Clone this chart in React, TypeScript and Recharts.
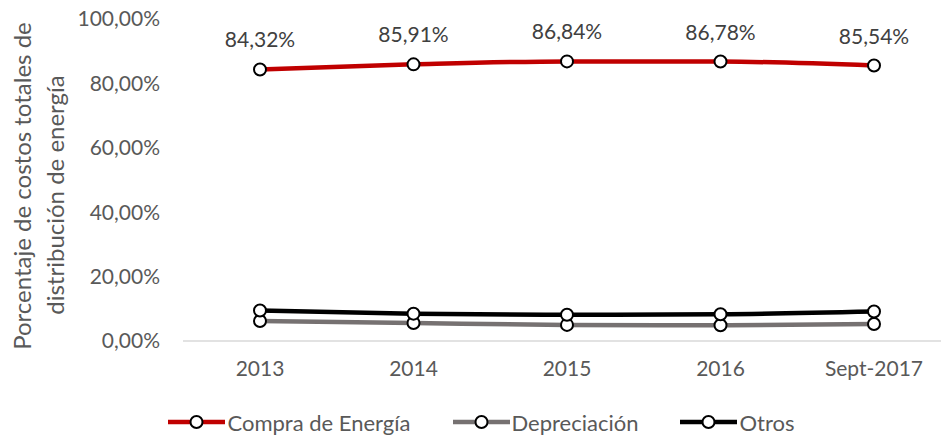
import React from "react";
import { LineChart, Line, XAxis, YAxis, LabelList } from "recharts";

const years = ["2013", "2014", "2015", "2016", "Sept-2017"];
const compra = [84.32, 85.91, 86.84, 86.78, 85.54];
const depreciacion = [6.2, 5.6, 5.0, 4.9, 5.3];
const otros = [9.48, 8.49, 8.16, 8.32, 9.16];
const yTicks = [0, 20, 40, 60, 80, 100];

const series = [
  { key: "compra", name: "Compra de Energía", color: "#c00000" },
  { key: "depreciacion", name: "Depreciación", color: "#767171" },
  { key: "otros", name: "Otros", color: "#000000" },
];

const data = years.map((y, i) => ({
  year: y,
  compra: compra[i],
  depreciacion: depreciacion[i],
  otros: otros[i],
}));

const FONT = "Lato, 'Open Sans', sans-serif";
const pct = (v: number) => v.toFixed(2).replace(".", ",") + "%";

function YTitle() {
  return (
    <g fill="#595959" fontFamily={FONT} fontSize={24}>
      <text transform="translate(31,186) rotate(-90)" textAnchor="middle">
        Porcentaje de costos totales de
      </text>
      <text transform="translate(64,195) rotate(-90)" textAnchor="middle">
        distribución de energía
      </text>
    </g>
  );
}

function LegendBox() {
  return (
    <div
      style={{
        position: "absolute",
        left: 0,
        top: 408,
        width: 941,
        height: 28,
        paddingLeft: 22,
        boxSizing: "border-box",
        display: "flex",
        justifyContent: "center",
        alignItems: "center",
        gap: 42,
        fontFamily: FONT,
        fontSize: 22,
        color: "#595959",
      }}
    >
      {series.map((s) => (
        <div key={s.key} style={{ display: "flex", alignItems: "center" }}>
          <svg width={57} height={16}>
            <line x1={0} x2={57} y1={8} y2={8} stroke={s.color} strokeWidth={4.5} strokeLinecap="round" />
            <circle cx={28.5} cy={8} r={6} fill="#fff" stroke="#000" strokeWidth={2} />
          </svg>
          <span style={{ marginLeft: 2 }}>{s.name}</span>
        </div>
      ))}
    </div>
  );
}

export default function App() {
  return (
    <div style={{ position: "absolute", left: 0, top: 0, width: 941, height: 439, background: "#fff" }}>
      <LineChart
        width={941}
        height={439}
        data={data}
        margin={{ top: 19, right: 0, bottom: 0, left: 0 }}
      >
        <XAxis
          dataKey="year"
          padding={{ left: 77, right: 67 }}
          height={98}
          tickLine={false}
          tickSize={0}
          tickMargin={20}
          axisLine={{ stroke: "#d9d9d9", strokeWidth: 1.5 }}
          tick={{ fill: "#595959", fontSize: 21, fontFamily: FONT }}
        />
        <YAxis
          width={183}
          domain={[0, 100]}
          ticks={yTicks}
          tickFormatter={pct}
          axisLine={false}
          tickLine={false}
          tickSize={0}
          tickMargin={23}
          tick={{ fill: "#595959", fontSize: 21, fontFamily: FONT }}
          label={{ content: () => <YTitle /> }}
        />
        {series.map((s) => (
          <Line
            key={s.key}
            type="monotone"
            dataKey={s.key}
            name={s.name}
            stroke={s.color}
            strokeWidth={4.5}
            dot={{ r: 6, fill: "#fff", stroke: "#000", strokeWidth: 2 }}
            activeDot={false}
            isAnimationActive={false}
          >
            {s.key === "compra" && (
              <LabelList
                dataKey={s.key}
                position="top"
                offset={22}
                formatter={(v: any) => pct(Number(v))}
                style={{ fill: "#404040", fontSize: 21, fontFamily: FONT }}
              />
            )}
          </Line>
        ))}
      </LineChart>
      <LegendBox />
    </div>
  );
}
